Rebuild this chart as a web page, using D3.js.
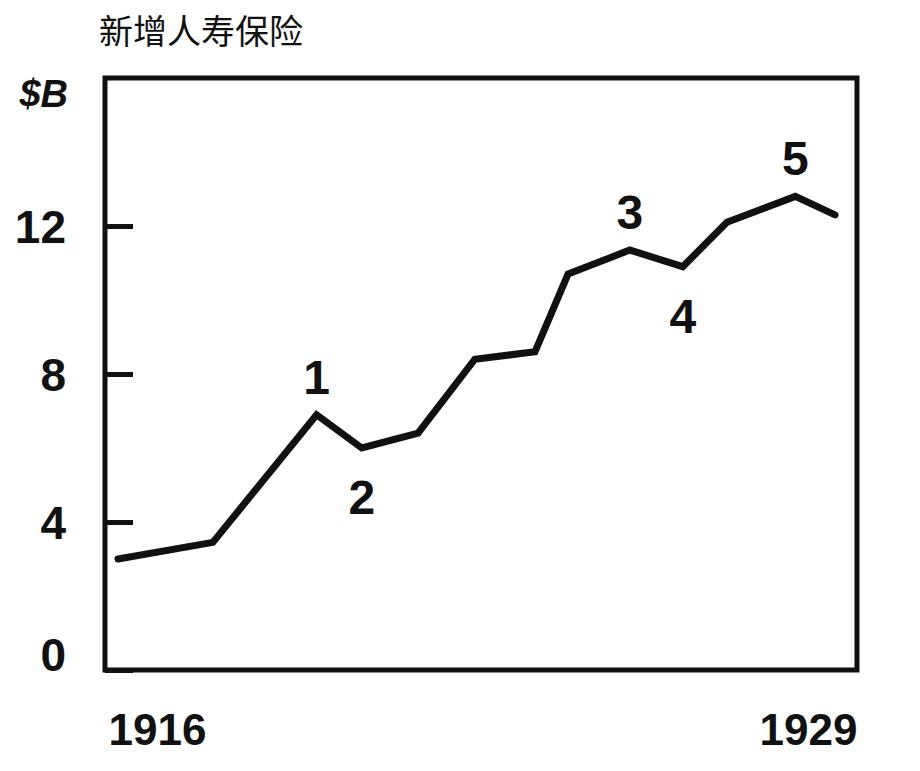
<!DOCTYPE html>
<html>
<head>
<meta charset="utf-8">
<script src="https://cdn.jsdelivr.net/npm/d3@7"></script>
<style>
  html, body { margin: 0; padding: 0; background: #fff; }
  svg { display: block; }
  .tick text { font-family: "Liberation Sans", Arial, sans-serif; font-weight: bold; fill: #111; }
</style>
</head>
<body>
<svg class="chart" width="920" height="771"></svg>
<script>
// values (x in years, y in $ billions)
const years = [1916, 1917.72, 1919.6, 1920.42, 1921.44, 1922.47, 1923.56, 1924.16, 1925.28, 1926.24, 1927.04, 1928.28, 1929];
const values = [3.0, 3.45, 6.9, 6.0, 6.4, 8.4, 8.6, 10.7, 11.35, 10.9, 12.1, 12.8, 12.3];
const yTicks = [0, 4, 8, 12];
const xTicks = [1916, 1929];
const marks = ['1', '2', '3', '4', '5'];
const markPoints = [2, 3, 8, 9, 11];
const markSides = ['above', 'below', 'above', 'below', 'above'];

const title = '新增人寿保险';
const unit = '$B';

// frame
const frame = { left: 105, right: 857, top: 78, bottom: 670 };

const svg = d3.select('.chart');

const x = d3.scaleLinear()
            .domain([1916, 1929])
            .range([frame.left + 13, frame.right - 22]);

const y = d3.scaleLinear()
            .domain([0, 16])
            .range([frame.bottom, frame.top]);

svg.append('text')
   .attr('x', 99)
   .attr('y', 44)
   .attr('font-family', '"Noto Sans CJK SC", sans-serif')
   .attr('font-size', 34)
   .attr('fill', '#111')
   .text(title);

svg.append('text')
   .attr('x', 68)
   .attr('y', 107)
   .attr('text-anchor', 'end')
   .attr('font-family', '"Liberation Sans", Arial, sans-serif')
   .attr('font-weight', 'bold')
   .attr('font-style', 'italic')
   .attr('font-size', 38)
   .attr('fill', '#111')
   .text(unit);

svg.append('rect')
   .attr('x', frame.left)
   .attr('y', frame.top)
   .attr('width', frame.right - frame.left)
   .attr('height', frame.bottom - frame.top)
   .attr('fill', 'none')
   .attr('stroke', '#111')
   .attr('stroke-width', 5);

// y axis, ticks pointing inward
const yAxis = svg.append('g')
                 .attr('transform', `translate(${frame.left}, 0)`)
                 .call(d3.axisLeft(y).tickValues(yTicks).tickSize(-28).tickPadding(39));

yAxis.select('.domain').remove();
yAxis.selectAll('.tick line').attr('stroke', '#111').attr('stroke-width', 5);
yAxis.selectAll('.tick text')
     .attr('font-size', 46)
     .attr('dy', d => (d === 0 ? '0.02em' : '0.36em'));

// x axis, only the first and last year
const xAxis = svg.append('g')
                 .attr('transform', `translate(0, ${frame.bottom})`)
                 .call(d3.axisBottom(x).tickValues(xTicks).tickSize(0).tickPadding(0).tickFormat(d3.format('d')));

xAxis.select('.domain').remove();
xAxis.selectAll('.tick text')
     .attr('font-size', 44)
     .attr('dy', 0)
     .attr('y', 75)
     .attr('text-anchor', (d, i) => (i === 0 ? 'start' : 'end'))
     .attr('dx', (d, i) => (i === 0 ? -10 : 22));

const line = d3.line()
               .x((d, i) => x(years[i]))
               .y(d => y(d));

svg.append('path')
   .datum(values)
   .attr('d', line)
   .attr('fill', 'none')
   .attr('stroke', '#111')
   .attr('stroke-width', 7)
   .attr('stroke-linejoin', 'miter')
   .attr('stroke-linecap', 'round');

svg.append('g')
   .selectAll('text')
   .data(marks)
   .enter().append('text')
     .attr('x', (d, i) => x(years[markPoints[i]]))
     .attr('y', (d, i) => y(values[markPoints[i]]) + (markSides[i] === 'above' ? -21 + 0 : 66))
     .attr('text-anchor', 'middle')
     .attr('font-family', '"Liberation Sans", Arial, sans-serif')
     .attr('font-weight', 'bold')
     .attr('font-size', 48)
     .attr('fill', '#111')
     .text(d => d);
</script>
</body>
</html>
